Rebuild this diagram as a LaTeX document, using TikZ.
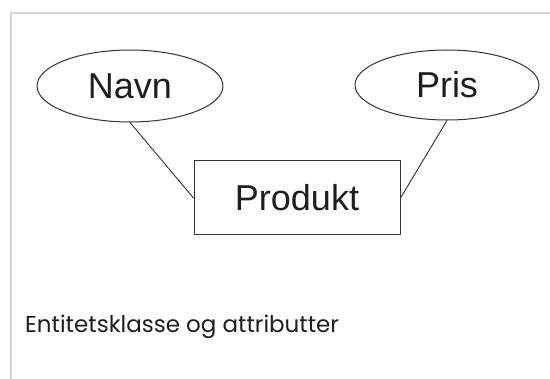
\documentclass[tikz,border=0pt]{standalone}
\usepackage{fontspec}
\setmainfont{Liberation Sans}
\newfontfamily\capfont{Poppins}
\usetikzlibrary{shapes.geometric}

\begin{document}
\begin{tikzpicture}[x=1pt,y=-1pt,line cap=round,line join=round]
  \definecolor{frm}{HTML}{D4D4D4}
  \definecolor{ink}{HTML}{333333}
  \definecolor{txt}{HTML}{1E1E1E}
  \tikzset{
    attr/.style={ellipse,draw=ink,line width=1pt,inner sep=0pt,
      minimum width=186,minimum height=72,text=txt,
      font=\fontsize{36}{40}\selectfont},
    entity/.style={rectangle,draw=ink,line width=1pt,inner sep=0pt,
      minimum width=206,minimum height=74,text=txt,
      font=\fontsize{36}{40}\selectfont},
    link/.style={draw=ink,line width=0.9pt}
  }

  \useasboundingbox (0,0) rectangle (550,379);
  \fill[white] (0,0) rectangle (550,379);

  % frame: top and left edge
  \draw[frm,line width=2pt,line cap=butt] (550,13) -- (11,13) -- (11,379);

  % attributes
  \node[attr] (navn) at (130,86) {Navn};
  \node[attr,minimum width=184,minimum height=70] (pris) at (447,85) {Pris};

  % entity
  \node[entity] (produkt) at (297,198) {Produkt};

  % links
  \draw[link] (navn.south) -- (produkt.west);
  \draw[link] (pris.south) -- (produkt.east);

  % caption
  \node[anchor=base west,inner sep=0pt,text=txt,
    font=\capfont\fontsize{23}{26}\selectfont] (cap) at (25,333)
    {Entitetsklasse og attributter};
\end{tikzpicture}
\end{document}
